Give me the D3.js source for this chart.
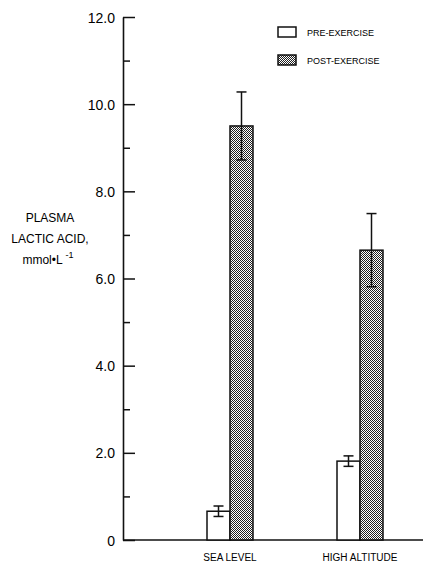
<!DOCTYPE html>
<html lang="en">
<head>
<meta charset="utf-8">
<title>Plasma lactic acid</title>
<script src="https://d3js.org/d3.v7.min.js"></script>
<style>
  body { margin: 0; background: #fff; }
  text { font-family: "Liberation Sans Narrow", "Liberation Sans", "DejaVu Sans Condensed", sans-serif; fill: #000; }
</style>
</head>
<body>
<script>
// data
const categories = ["SEA LEVEL", "HIGH ALTITUDE"];
const series = ["PRE-EXERCISE", "POST-EXERCISE"];
const preMean = [0.66, 1.81];
const preErr = [0.12, 0.12];
const postMean = [9.5, 6.65];
const postErr = [0.78, 0.84];
const yTicks = [0, 1, 2, 3, 4, 5, 6, 7, 8, 9, 10, 11, 12];
const yTickLabels = ["0", "", "2.0", "", "4.0", "", "6.0", "", "8.0", "", "10.0", "", "12.0"];

const w = 423, h = 564;
const svg = d3.select("body").append("svg").attr("width", w).attr("height", h);

// stipple fill
const defs = svg.append("defs");
const pat = defs.append("pattern").attr("id", "dots")
  .attr("width", 2).attr("height", 2).attr("patternUnits", "userSpaceOnUse");
pat.append("rect").attr("width", 2).attr("height", 2).attr("fill", "#fff");
pat.append("rect").attr("width", 1).attr("height", 1).attr("fill", "#222");
pat.append("rect").attr("x", 1).attr("y", 1).attr("width", 1).attr("height", 1).attr("fill", "#222");

const y = d3.scaleLinear().domain([0, 12]).range([540, 17]);
const x = d3.scalePoint().domain(categories).range([230, 360]);
const sub = d3.scaleBand().domain(series).range([-23, 23]).padding(0);

const rows = categories.map((c, i) => [
  {cat: c, s: series[0], v: preMean[i], e: preErr[i]},
  {cat: c, s: series[1], v: postMean[i], e: postErr[i]}
]).flat();

// y axis
const axisX = 123;
const yAxis = d3.axisRight(y).tickValues(yTicks)
  .tickSize(0).tickFormat("");
const ga = svg.append("g").attr("transform", `translate(${axisX},0)`).call(yAxis);
ga.select(".domain").attr("stroke", "#111").attr("stroke-width", 1.6);
ga.selectAll(".tick line")
  .attr("x2", (d, i) => i % 2 === 0 ? 12 : 7)
  .attr("stroke", "#111").attr("stroke-width", 1.5);
ga.selectAll(".tick").append("text")
  .attr("x", -8).attr("dy", "0.36em")
  .attr("text-anchor", "end")
  .style("font-size", "14px")
  .text((d, i) => yTickLabels[i]);

// baseline
svg.append("line").attr("x1", axisX).attr("x2", w).attr("y1", y(0)).attr("y2", y(0))
  .attr("stroke", "#111").attr("stroke-width", 1.6);

// bars
svg.selectAll("rect.bar").data(rows).enter().append("rect")
  .attr("class", "bar")
  .attr("x", d => x(d.cat) + sub(d.s))
  .attr("y", d => y(d.v))
  .attr("width", sub.bandwidth())
  .attr("height", d => y(0) - y(d.v))
  .attr("fill", d => d.s === series[0] ? "#fff" : "url(#dots)")
  .attr("stroke", "#111").attr("stroke-width", 1.5);

// error bars
const eb = svg.selectAll("g.err").data(rows).enter().append("g").attr("class", "err")
  .attr("transform", d => `translate(${x(d.cat) + sub(d.s) + sub.bandwidth() / 2},0)`);
eb.append("line").attr("y1", d => y(d.v + d.e)).attr("y2", d => y(d.v - d.e))
  .attr("stroke", "#111").attr("stroke-width", 1.5);
eb.append("line").attr("x1", -5).attr("x2", 5)
  .attr("y1", d => y(d.v + d.e)).attr("y2", d => y(d.v + d.e))
  .attr("stroke", "#111").attr("stroke-width", 1.5);
eb.append("line").attr("x1", -5).attr("x2", 5)
  .attr("y1", d => y(d.v - d.e)).attr("y2", d => y(d.v - d.e))
  .attr("stroke", "#111").attr("stroke-width", 1.5);

// category labels
svg.selectAll("text.cat").data(categories).enter().append("text")
  .attr("class", "cat")
  .attr("x", d => x(d)).attr("y", 561)
  .attr("text-anchor", "middle")
  .style("font-size", "10px")
  .text(d => d);

// legend
const lg = svg.append("g").attr("transform", "translate(278,27)");
series.forEach((s, i) => {
  lg.append("rect").attr("x", 0).attr("y", i * 28).attr("width", 18).attr("height", 10)
    .attr("fill", i === 0 ? "#fff" : "url(#dots)")
    .attr("stroke", "#111").attr("stroke-width", 1.5);
  lg.append("text").attr("x", 29).attr("y", i * 28 + 9)
    .style("font-size", "9px").text(s);
});

// y title
const yt = svg.append("text").attr("text-anchor", "middle").style("font-size", "12px");
yt.append("tspan").attr("x", 50).attr("y", 222).text("PLASMA");
yt.append("tspan").attr("x", 50).attr("y", 243).text("LACTIC ACID,");
yt.append("tspan").attr("x", 48).attr("y", 264).text("mmol\u2022L ");
yt.append("tspan").attr("dy", -6).style("font-size", "9px").text("-1");
</script>
</body>
</html>
